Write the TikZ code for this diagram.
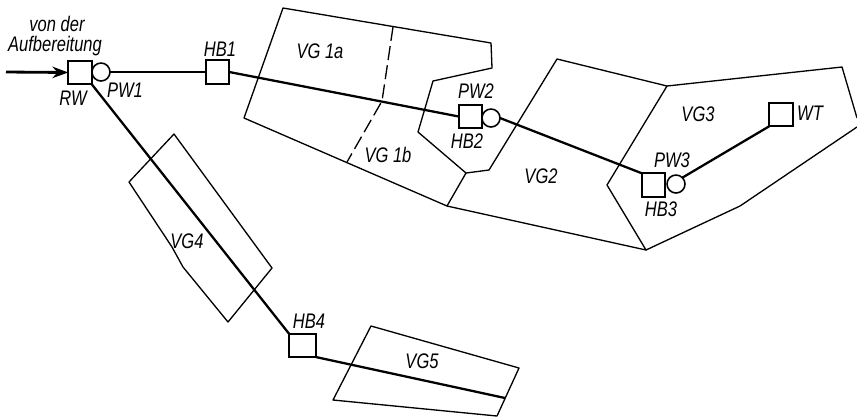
\documentclass[tikz,border=0pt]{standalone}
\usepackage{fontspec}
\setmainfont{Liberation Sans}
\usetikzlibrary{arrows.meta, positioning}

\begin{document}
\begin{tikzpicture}[x=0.02cm, y=-0.02cm,
    area/.style={line width=0.75pt, line join=round},
    pipe/.style={line width=1.3pt},
    tank/.style={draw, line width=1.1pt, minimum size=0.47cm, inner sep=0pt, outer sep=0pt},
    pump/.style={draw, circle, line width=0.9pt, minimum size=0.36cm, inner sep=0pt, outer sep=0pt},
    lbl/.style={font=\fontsize{10}{12}\selectfont\itshape, inner sep=0pt, transform shape, xscale=0.94, yscale=1.2}]
\useasboundingbox (0,0) rectangle (857,417);

% --- Supply areas ---
\draw[area] (283,8) -- (491,43) -- (492,68) -- (433,81) -- (418,132) -- (466,173) -- (447,206) -- (244,118) -- cycle;
\draw[area, dashed, dash pattern=on 8pt off 3pt] (393,27) -- (382,101) -- (347,162);
\draw[area] (466,173) -- (489,170) -- (557,59) -- (667,86) -- (607,185) -- (646,250) -- (447,206);
\draw[area] (667,86) -- (842,67) -- (857,118);
\draw[area] (857,127) -- (740,206) -- (646,250);
\draw[area] (174,134) -- (129,182) -- (172,247) -- (183,267) -- (228,322) -- (272,268) -- cycle;
\draw[area] (371,326) -- (519,368) -- (497,416) -- (333,400) -- cycle;

% --- Tanks and pumps ---
\node[tank] (rw) at (80,72.5) {};
\node[pump] (pw1) at (101,72) {};
\node[tank] (hb1) at (217.5,72) {};
\node[tank] (hb2) at (470.5,116.5) {};
\node[pump] (pw2) at (491,118) {};
\node[tank] (hb3) at (653.5,185) {};
\node[pump] (pw3) at (676,184) {};
\node[tank] (wt) at (781,114.5) {};
\node[tank, minimum width=0.53cm, minimum height=0.46cm] (hb4) at (302.5,345.5) {};

% --- Free ends ---
\coordinate (inflow) at (6,72);
\coordinate (vg5end) at (505,398);

% --- Pipes ---
\draw[-{Stealth[length=9pt,width=6.5pt]}, line width=1.6pt] (inflow) -- (rw.west);
\draw[pipe] (pw1.east) -- (hb1.west);
\draw[pipe] (hb1.east) -- (hb2.west);
\draw[pipe] (pw2.east) -- (hb3.north west);
\draw[pipe] (pw3.north east) -- (wt.south west);
\draw[pipe] (rw.south east) -- (hb4.north west);
\draw[pipe] (hb4.south east) -- (vg5end);

% --- Labels ---
\node[lbl] (vonder) at (57,24) {von der};
\node[lbl] (aufb) at (55,46) {Aufbereitung};
\node[lbl] (rwlbl) at (73,98) {RW};
\node[lbl] (pw1lbl) at (125,90) {PW1};
\node[lbl] (hb1lbl) at (220,49) {HB1};
\node[lbl] (vg1a) at (320,51) {VG 1a};
\node[lbl] (vg1b) at (388,155) {VG 1b};
\node[lbl] (pw2lbl) at (476,91) {PW2};
\node[lbl] (hb2lbl) at (467,141) {HB2};
\node[lbl] (vg2) at (541,176) {VG2};
\node[lbl] (vg3) at (698,114) {VG3};
\node[lbl] (pw3lbl) at (672,160) {PW3};
\node[lbl] (hb3lbl) at (661,209) {HB3};
\node[lbl] (wtlbl) at (810,113) {WT};
\node[lbl] (vg4) at (187,241) {VG4};
\node[lbl] (hb4lbl) at (309,321) {HB4};
\node[lbl] (vg5) at (422,361) {VG5};

\end{tikzpicture}
\end{document}
